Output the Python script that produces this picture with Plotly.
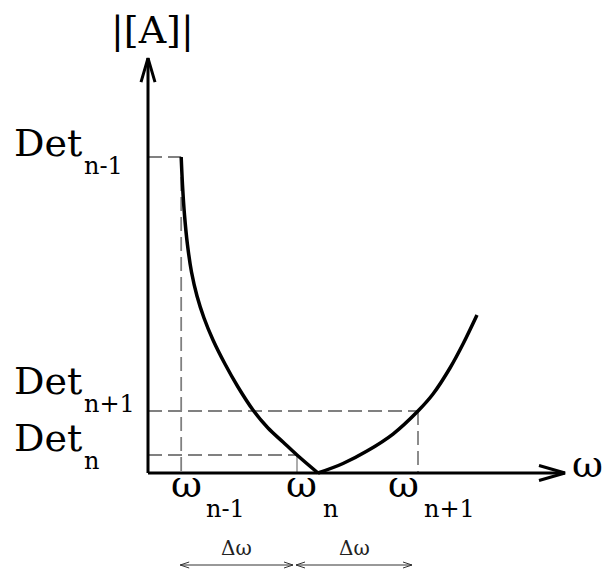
import plotly.graph_objects as go

# ---------------- data (schematic units) ----------------
left_w = [0.28, 0.2911, 0.308, 0.3333, 0.3671, 0.4135, 0.4726, 0.5485, 0.6498,
          0.7595, 0.8861, 1.0127, 1.1392, 1.2574, 1.4346]
left_a = [10.0, 9.114, 8.165, 7.215, 6.361, 5.601, 4.905, 4.209, 3.449,
          2.722, 1.994, 1.424, 0.981, 0.57, 0.0]
right_w = [1.4346, 1.6456, 1.8481, 2.0675, 2.2785, 2.4051, 2.5485, 2.6582, 2.7764]
right_a = [0.0, 0.301, 0.696, 1.234, 1.962, 2.5, 3.323, 4.082, 5.0]

omega_vals = [0.28, 1.2574, 2.2785]        # ω_{n-1}, ω_n, ω_{n+1}
omega_subs = ["n-1", "n", "n+1"]
det_vals = [10.0, 0.57, 1.962]             # Det_{n-1}, Det_n, Det_{n+1}
det_subs = ["n-1", "n", "n+1"]
x_axis_end = 3.519
y_axis_end = 13.13
y_label = "|[A]|"
x_label = "ω"
delta_label = "Δω"

# ---------------- layout helpers ----------------
SX, SY = 118.5, 31.6      # px per unit
W, H = 604, 569
OX, OY = 148, 473         # origin in px
x_range = [-OX / SX, (W - OX) / SX]
y_range = [-(H - OY) / SY, OY / SY]
FONT = "DejaVu Serif"
BIG, SUB = 38, 24
GRAY = "#808080"
DASH = "14px,6px"

fig = go.Figure()

def line(xs, ys, color="black", width=3, dash=None, shape="linear"):
    fig.add_trace(go.Scatter(x=xs, y=ys, mode="lines", hoverinfo="skip",
                             line=dict(color=color, width=width, dash=dash, shape=shape)))

# guide lines
for k, (w, d) in enumerate(zip(omega_vals, det_vals)):
    line([0, w], [d, d], GRAY, 1.8, DASH)
    if k == 1:
        line([w, w], [d, 0], GRAY, 1.3)
    else:
        line([w, w], [d, 0], GRAY, 1.8, DASH)

# curve
line(left_w, left_a, "black", 3.5, None, "spline")
line(right_w, right_a, "black", 3.5, None, "spline")

# axes with open arrowheads
line([0, 0], [0, y_axis_end], "black", 3)
line([0, x_axis_end], [0, 0], "black", 3)
line([-7 / SX, 0, 7 / SX], [y_axis_end - 24 / SY, y_axis_end, y_axis_end - 24 / SY], "black", 3)
line([x_axis_end - 26 / SX, x_axis_end, x_axis_end - 26 / SX], [7.5 / SY, 0, -7.5 / SY], "black", 3)

def txt(text, x, y, size, xanchor, xshift, yshift, color="black"):
    fig.add_annotation(text=text, x=x, y=y, xref="x", yref="y", showarrow=False,
                       font=dict(family=FONT, size=size, color=color),
                       xanchor=xanchor, yanchor="bottom", xshift=xshift, yshift=yshift)

def px_y(v):
    return OY - v * SY

# Det labels: (main baseline px, sub baseline px)
det_baselines = [(157, 175), (452, 470), (395, 413)]
for d, s, (b_main, b_sub) in zip(det_vals, det_subs, det_baselines):
    py = px_y(d)
    txt("Det", 0, d, BIG, "right", -64, py - (b_main + 0.236 * BIG + 1))
    txt(s, 0, d, SUB, "left", -66, py - (b_sub + 0.236 * SUB + 1))

# omega tick labels
om_right = [203, 318, 420]
om_subleft = [205, 322, 423]
for w, s, r, sl in zip(omega_vals, omega_subs, om_right, om_subleft):
    wpx = OX + w * SX
    txt("ω", w, 0, BIG, "right", r - wpx + 1, OY - (498 + 0.236 * BIG + 1))
    txt(s, w, 0, SUB, "left", sl - wpx - 1, OY - (518 + 0.236 * SUB + 1))

# axis labels
txt(x_label, x_axis_end, 0, BIG, "left", 5, OY - (478 + 0.236 * BIG + 1))
fig.add_annotation(text=y_label, x=0, y=y_axis_end, xref="x", yref="y", showarrow=False,
                   font=dict(family=FONT, size=BIG, color="black"),
                   xanchor="center", yanchor="bottom", xshift=4,
                   yshift=(OY - y_axis_end * SY) - (44 + 0.236 * BIG + 1))

# Δω double arrows (thin line + small open barbs)
y_arr = -(565 - OY) / SY
AC = "#333333"
hl, hw = 9 / SX, 3 / SY
for a, b, o0, o1 in [(omega_vals[0], omega_vals[1], -1, -4), (omega_vals[1], omega_vals[2], -1, -6)]:
    xa = a + o0 / SX
    xb = b + o1 / SX
    line([xa, xb], [y_arr, y_arr], AC, 1)
    line([xa + hl, xa, xa + hl], [y_arr + hw, y_arr, y_arr - hw], AC, 1)
    line([xb - hl, xb, xb - hl], [y_arr + hw, y_arr, y_arr - hw], AC, 1)
    txt(delta_label, (xa + xb) / 2, y_arr, 20, "center", 0, 3, "#222222")

fig.update_layout(
    width=W, height=H, margin=dict(l=0, r=0, t=0, b=0, pad=0),
    paper_bgcolor="white", plot_bgcolor="white", showlegend=False,
    xaxis=dict(range=x_range, visible=False, fixedrange=True),
    yaxis=dict(range=y_range, visible=False, fixedrange=True),
)
fig.write_html("out.html", config={"displayModeBar": False},
               post_script="document.body.style.margin='0px';document.body.style.overflow='hidden';")
